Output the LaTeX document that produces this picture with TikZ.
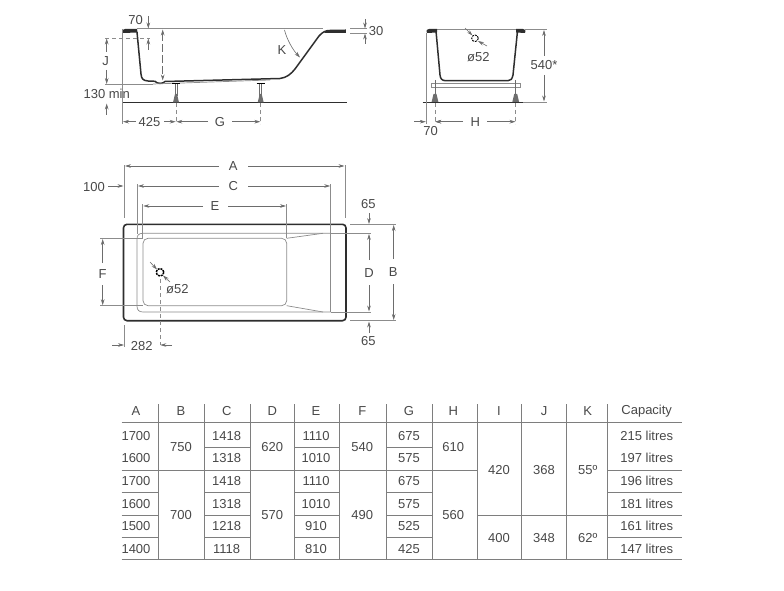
\documentclass[tikz,border=0pt]{standalone}
\usepackage{fontspec}
\setmainfont{Liberation Sans}
\usetikzlibrary{arrows.meta}
\definecolor{ink}{HTML}{2E2E2E}
\definecolor{txt}{HTML}{484848}
\definecolor{thin}{HTML}{8C8C8C}
\definecolor{rule}{HTML}{7E7E7E}
\tikzset{
  lbl/.style={font=\fontsize{13}{13}\selectfont,text=txt,inner sep=0pt},
  cell/.style={lbl},
  thinl/.style={draw=thin,line width=0.7pt},
  dashl/.style={draw=thin,line width=0.7pt,dash pattern=on 4pt off 3pt},
  body/.style={draw=ink,line width=1.5pt,line join=round},
  dimar/.style={draw=ink!70,line width=0.6pt,-{Stealth[length=6pt,width=3.6pt]}},
  dimbo/.style={draw=ink!70,line width=0.6pt,{Stealth[length=6pt,width=3.6pt]}-{Stealth[length=6pt,width=3.6pt]}},
  dimda/.style={dimbo,dash pattern=on 8pt off 3pt},
  trule/.style={draw=rule,line width=0.8pt},
}
\begin{document}
\begin{tikzpicture}[x=1pt,y=-1pt]
\useasboundingbox (0,0) rectangle (784,591);
% ---------- side elevation
\draw[thinl] (137,28.7) -- (323,28.7);
\fill[ink] (123,33) .. controls (122,30) and (123,29) .. (125,29) -- (137,29) -- (137.5,32.5) -- cycle;
\draw[body] (137,32) -- (141,74) .. controls (141.5,79) and (143,80.5) .. (148,81) -- (155,81.3)
  .. controls (157,84) and (163,84) .. (165,81.5) -- (280,78.5)
  .. controls (287,77.5) and (291,74) .. (295,69) -- (319,36)
  .. controls (323,31.5) and (326,30.5) .. (330,30.5) -- (345,30.5);
\draw[ink,line width=1.6pt,line cap=round] (345.5,30) -- (345.5,32.3) -- (325,32.3);
\draw[thinl] (153,84) -- (270,80);
\draw[draw=ink,line width=1.4pt] (122.7,102.7) -- (346.7,102.7);
\foreach \lx in {176,260.7}{
  \draw[thin,line width=0.8pt] (\lx-4,83) -- (\lx+4,83);
  \draw[ink!70,line width=1pt] (\lx-1,84) -- (\lx-1,96) (\lx+1,84) -- (\lx+1,96);
  \fill[ink!70] (\lx-1,94) -- (\lx+1,94) -- (\lx+3,102.5) -- (\lx-3,102.5) -- cycle;
  \draw[dashl] (\lx,103) -- (\lx,124);
}
\draw[thinl] (122.7,29) -- (122.7,124);
\draw[dashl] (105,38.3) -- (150,38.3);
\draw[thinl] (105,84) -- (153,84);
\node[lbl] (nJ) at (105.7,61) {J};
\draw[dimar] (106.7,52) -- (106.7,38.5);
\draw[dimar] (106.7,70) -- (106.7,84);
\node[lbl,anchor=center] (n70a) at (135.7,20) {70};
\draw[dimar] (148.3,16) -- (148.3,28.5);
\draw[dimar] (148.3,50) -- (148.3,38.5);
\draw[dimda] (162.7,29.5) -- (162.7,80.5);
\draw[dimar] (284.5,30) .. controls (287,40) and (293,50) .. (300,57.5);
\node[lbl] (nK) at (282,50) {K};
\node[lbl] (n130) at (106.7,93.5) {130 min};
\draw[dimar] (106.7,115) -- (106.7,103.5);
\draw[thinl] (350,28.7) -- (367,28.7) (350,33.3) -- (367,33.3);
\draw[dimar] (365,19) -- (365,28.5);
\draw[dimar] (365,44) -- (365,33.5);
\node[lbl] (n30) at (376,31) {30};
\node[lbl] (n425) at (149.5,121.7) {425};
\draw[dimar] (136,121.7) -- (123,121.7);
\draw[dimar] (164,121.7) -- (175.7,121.7);
\node[lbl] (nG) at (220,121.7) {G};
\draw[dimar] (208,121.7) -- (176.3,121.7);
\draw[dimar] (232,121.7) -- (260.4,121.7);
% ---------- end elevation
\draw[thinl] (436,29) -- (517,29);
\fill[ink] (427,33) .. controls (426,30) and (427,29) .. (429,29) -- (437,29) -- (437,32.5) -- cycle;
\fill[ink] (525,33) .. controls (526,30) and (525,29) .. (523,29) -- (516,29) -- (516,32.5) -- cycle;
\draw[body] (436,31) -- (440,75) .. controls (440.5,79) and (442,80.7) .. (446,80.7) -- (508,80.7)
  .. controls (511,80.7) and (512,79) .. (513,75) -- (517.5,31);
\draw[thinl,fill=white] (431,83.5) rectangle (520,87.5);
\foreach \lx in {435,515.7}{
  \draw[ink!70,line width=1pt] (\lx,80) -- (\lx,97);
  \fill[ink!70] (\lx-1.5,94) -- (\lx+1.5,94) -- (\lx+3.5,102.5) -- (\lx-3.5,102.5) -- cycle;
  \draw[dashl] (\lx,103) -- (\lx,124);
}
\draw[draw=ink,line width=1.2pt] (422.7,102.7) -- (523.3,102.7);
\draw[thinl] (523.3,102.7) -- (546.7,102.7) (525,29) -- (546.7,29);
\draw[thinl] (426,33) -- (426,124);
\node[lbl] (n540) at (544,65) {540*};
\draw[dimar] (544,56) -- (544,30);
\draw[dimar] (544,75) -- (544,101.5);
\draw[dimar] (414,121.7) -- (425.8,121.7);
\draw[dimar] (448,121.7) -- (435.2,121.7);
\node[lbl] (n70b) at (430.7,131.5) {70};
\node[lbl] (nH) at (475.3,121.7) {H};
\draw[dimar] (463,121.7) -- (435.2,121.7);
\draw[dimar] (487,121.7) -- (515.5,121.7);
\draw[thin,line width=0.9pt,dash pattern=on 2pt off 1pt] (475,38.3) circle (3.3);
\draw[dimar] (465,28) -- (472.5,35.5);
\draw[dimar] (487,46) -- (478,41);
\node[lbl] (ndia1) at (478.3,57) {ø52};
% ---------- plan
\draw[ink,line width=1.6pt,rounded corners=3.5pt] (123.5,224.3) rectangle (346,320.7);
\draw[thinl] (330.7,233.3) -- (143,233.3) .. controls (139,233.3) and (137,235) .. (137,239) -- (137,306) .. controls (137,310) and (139,312) .. (143,312) -- (330.7,312);
\draw[thinl,rounded corners=5pt] (286.7,238.3) rectangle (143,305.7);
\draw[thinl] (286.7,238.3) -- (323,233.3) (286.7,305.7) -- (323,312);
\draw[thinl] (330.7,233.3) -- (370.7,233.3) (330.7,312) -- (370.7,312);
\draw[thinl] (350,224.3) -- (396,224.3) (350,320.7) -- (396,320.7);
\draw[thinl] (124.3,165) -- (124.3,218) (345,165) -- (345,218);
\draw[thinl] (137.3,184) -- (137.3,234) (330.7,184) -- (330.7,312);
\draw[thinl] (142.7,204) -- (142.7,238) (286.7,204) -- (286.7,238);
\node[lbl] (nA) at (233.3,166) {A};
\draw[dimar] (219,166) -- (125,166);
\draw[dimar] (248,166) -- (344.5,166);
\node[lbl] (nC) at (233.3,186) {C};
\draw[dimar] (219,186) -- (138,186);
\draw[dimar] (248,186) -- (330.2,186);
\node[lbl] (nE) at (215,206.5) {E};
\draw[dimar] (203,206) -- (143.3,206);
\draw[dimar] (228,206) -- (286,206);
\node[lbl] (n100) at (94,186.7) {100};
\draw[dimar] (108,186) -- (123.5,186);
\draw[thinl] (100,238.3) -- (143,238.3) (100,305.7) -- (143,305.7);
\node[lbl] (nF) at (102.7,274) {F};
\draw[dimar] (102.7,263) -- (102.7,239);
\draw[dimar] (102.7,285) -- (102.7,305.2);
\draw[thin,line width=1.5pt,dash pattern=on 2pt off 1pt] (160,272.3) circle (3.8);
\draw[dimar] (150,262) -- (157,269.5);
\draw[dimar] (170,282) -- (163,275.5);
\node[lbl] (ndia2) at (177.3,289.3) {ø52};
\draw[dashl] (160,279) -- (160,345);
\draw[thinl] (124.3,325) -- (124.3,347);
\node[lbl] (n282) at (141.7,345.7) {282};
\draw[dimar] (112,345) -- (124,345);
\draw[dimar] (172,345) -- (160.3,345);
\node[lbl] (nD) at (369,273.5) {D};
\draw[dimar] (369,260) -- (369,234);
\draw[dimar] (369,285) -- (369,311.5);
\node[lbl] (nB) at (393.3,271.7) {B};
\draw[dimar] (393.7,259) -- (393.7,225);
\draw[dimar] (393.7,284) -- (393.7,320);
\node[lbl] (n65a) at (368.3,204.3) {65};
\draw[dimar] (369,213) -- (369,224);
\node[lbl] (n65b) at (368.3,341) {65};
\draw[dimar] (369,333) -- (369,321.5);
% ---------- table rules
\foreach \vx in {158.7,204.3,250.3,294.3,339.7,386.7,432.3,477.7,521.7,566.7,607}
  \draw[trule] (\vx,404.3) -- (\vx,559.7);
\draw[trule] (121.7,422.7) -- (681.7,422.7);
\draw[trule] (121.7,559.7) -- (681.7,559.7);
\draw[trule] (204.3,447.7) -- (250.3,447.7) (294.3,447.7) -- (339.7,447.7) (386.7,447.7) -- (432.3,447.7);
\draw[trule] (121.7,470.3) -- (477.7,470.3) (607,470.3) -- (681.7,470.3);
\foreach \ry in {492.3,537.3}
  \draw[trule] (121.7,\ry) -- (158.7,\ry) (204.3,\ry) -- (250.3,\ry) (294.3,\ry) -- (339.7,\ry) (386.7,\ry) -- (432.3,\ry) (607,\ry) -- (681.7,\ry);
\draw[trule] (121.7,515) -- (158.7,515) (204.3,515) -- (250.3,515) (294.3,515) -- (339.7,515) (386.7,515) -- (432.3,515) (477.7,515) -- (681.7,515);
% ---------- table header
\foreach \cx/\tx [count=\hn] in {136/A,181/B,226.7/C,272.3/D,316/E,362.3/F,409/G,453.3/H,499/I,544/J,587.7/K,646.7/Capacity}
  \node[cell] (h\hn) at (\cx,410.7) {\tx};
% ---------- table cells
\foreach \ry/\va/\vc/\ve/\vg/\vl [count=\rn] in {
  435.7/1700/1418/1110/675/215 litres,
  458.3/1600/1318/1010/575/197 litres,
  481/1700/1418/1110/675/196 litres,
  504/1600/1318/1010/575/181 litres,
  526.3/1500/1218/910/525/161 litres,
  549.3/1400/1118/810/425/147 litres}{
  \node[cell] (a\rn) at (136,\ry) {\va};
  \node[cell] (c\rn) at (226.7,\ry) {\vc};
  \node[cell] (e\rn) at (316,\ry) {\ve};
  \node[cell] (g\rn) at (409,\ry) {\vg};
  \node[cell] (l\rn) at (646.7,\ry) {\vl};
}
\foreach \cx/\ry/\tx [count=\mn] in {
  181/447/750,181/515/700,272.3/447/620,272.3/515/570,362.3/447/540,362.3/515/490,
  453.3/447/610,453.3/515/560,499/470/420,499/538/400,544/470/368,544/538/348,
  587.7/470/55º,587.7/538/62º}
  \node[cell] (m\mn) at (\cx,\ry) {\tx};
\end{tikzpicture}
\end{document}
